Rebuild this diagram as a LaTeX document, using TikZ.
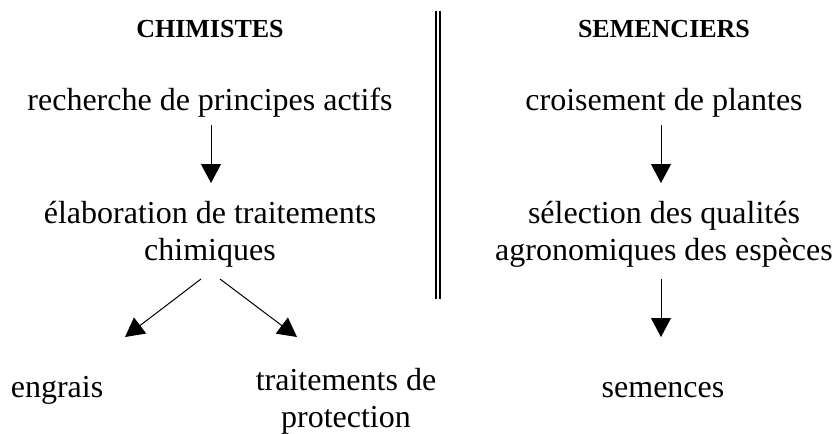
\documentclass[tikz,border=0pt]{standalone}
\usepackage{fontspec}
\setmainfont{Liberation Serif}
\usetikzlibrary{arrows.meta,positioning}

\begin{document}
\begin{tikzpicture}[x=1pt,y=-1pt,
    every node/.style={font=\fontsize{32}{37}\selectfont, inner sep=0pt, anchor=base},
    title/.style={font=\fontsize{26}{30}\selectfont\bfseries},
    flow/.style={-{Triangle[length=19pt,width=20pt]}, line width=1pt}]
  \useasboundingbox (0,0) rectangle (836,434);
  % left column: chimistes
  \node[title] (chim) at (210,37) {CHIMISTES};
  \node (rech) at (210,110) {recherche de principes actifs};
  \node[align=center] (elab) at (210,260) {élaboration de traitements\\chimiques};
  \node (engrais) at (57,397) {engrais};
  \node[align=center] (trait) at (346,427) {traitements de\\protection};
  % right column: semenciers
  \node[title] (sem) at (664,37) {SEMENCIERS};
  \node (crois) at (664,110) {croisement de plantes};
  \node[align=center] (select) at (664,260) {sélection des qualités\\agronomiques des espèces};
  \node (semences) at (663,397) {semences};
  % separation
  \draw[line width=1.8pt] (435.8,11) -- (435.8,299);
  \draw[line width=1.8pt] (439.7,11) -- (439.7,299);
  % arrows
  \draw[flow] ([xshift=1pt,yshift=-15pt]rech.base) -- ([xshift=1pt,yshift=77pt]elab.base);
  \draw[flow] ([xshift=-9pt,yshift=-19pt]elab.base) -- ([xshift=68pt,yshift=60pt]engrais.base);
  \draw[flow] ([xshift=10pt,yshift=-19pt]elab.base) -- ([xshift=-49pt,yshift=90pt]trait.base);
  \draw[flow] ([xshift=-3pt,yshift=-15pt]crois.base) -- ([xshift=-3pt,yshift=77pt]select.base);
  \draw[flow] ([xshift=-3pt,yshift=-19pt]select.base) -- ([xshift=-2pt,yshift=60pt]semences.base);
\end{tikzpicture}
\end{document}
